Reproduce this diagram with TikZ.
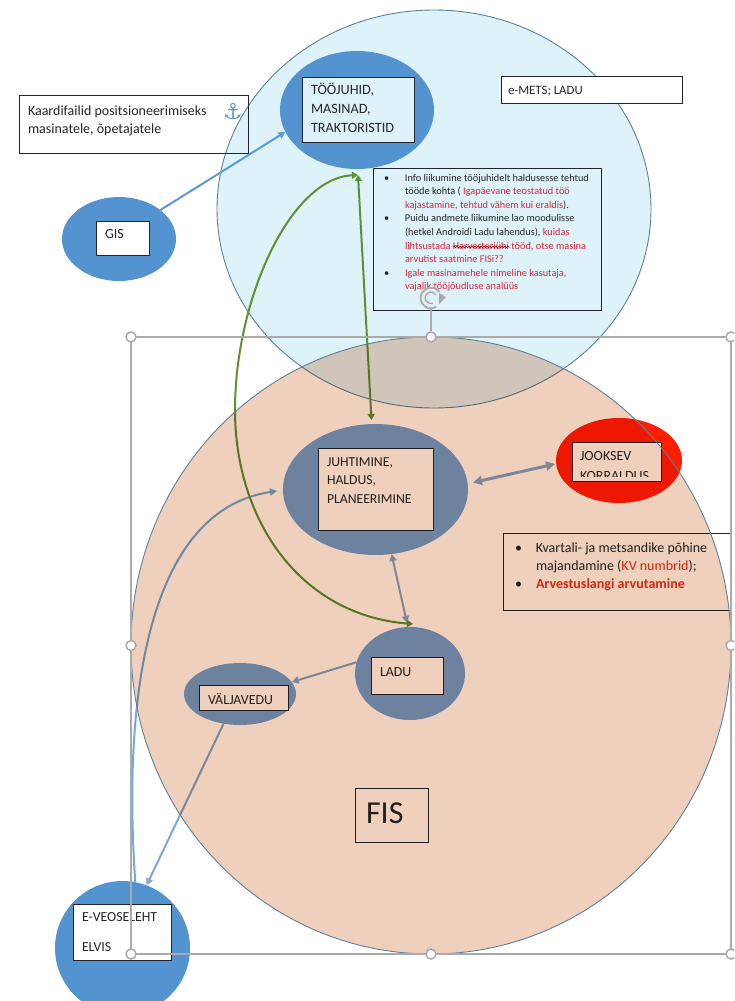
\documentclass[tikz,border=0pt]{standalone}
\usepackage{fontspec}
\setmainfont{Carlito}
\newfontfamily\djv{DejaVu Sans}
\usetikzlibrary{arrows.meta,shapes.geometric,decorations.pathmorphing}
\definecolor{lblue}{RGB}{222,242,250}
\definecolor{peach}{RGB}{238,208,188}
\definecolor{overblue}{RGB}{117,160,215}
\definecolor{arrblue}{RGB}{135,165,210}
\definecolor{curveblue}{RGB}{118,168,218}
\definecolor{mblue}{RGB}{83,148,208}
\definecolor{ablue}{RGB}{91,155,213}
\definecolor{edgeb}{RGB}{95,130,155}
\definecolor{gline}{RGB}{95,145,50}
\definecolor{hgray}{RGB}{170,170,170}
\definecolor{bdark}{RGB}{35,35,45}
\definecolor{tred}{RGB}{215,40,60}
\definecolor{kred}{RGB}{222,50,30}
\definecolor{hred}{RGB}{255,30,0}
\newcommand\szf[2]{\fontsize{#1}{#2}\selectfont}
\newcommand\bl[1]{\makebox[0pt][l]{\hspace{-21pt}•}#1}
\newcommand\tbox[9]{%
  \pgfmathsetmacro\bw{#5-#3}\pgfmathsetmacro\bh{#6-#4}%
  \node[boxst,#1,minimum width=\bw pt,minimum height=\bh pt] (#2) at (#3,#4) {};
  \node[txtst,font=#9] (#2-t) at (#7,#8) {\boxtext};}
\tikzset{
  boxst/.style={draw=bdark,line width=.9pt,anchor=north west,inner sep=0pt,outer sep=0pt},
  txtst/.style={anchor=north west,inner sep=0pt,outer sep=0pt,align=left,text=black!85},
  ell/.style={ellipse,inner sep=0pt,outer sep=0pt},
  conn/.style={line width=2pt,-{Triangle[length=7pt,width=7pt]}},
  biconn/.style={line width=2pt,{Triangle[length=7pt,width=7pt]}-{Triangle[length=7pt,width=7pt]}},
  handle/.style={circle,draw=hgray,fill=white,line width=1.5pt,minimum size=10pt,inner sep=0pt},
}
\begin{document}
\begin{tikzpicture}[x=1pt,y=-1pt]
\useasboundingbox (0,0) rectangle (734,1001);
\clip (0,0) rectangle (734,1001);
\fill[white] (0,0) rectangle (734,1001);
% light blue circle
\node[ell,fill=lblue,draw=edgeb,line width=.9pt,minimum width=434pt,minimum height=398pt] (emets) at (434,209) {};
% ellipses
\node[ell,fill=mblue,minimum width=154pt,minimum height=118pt] (too) at (357,110) {};
\node[ell,fill=mblue,minimum width=114pt,minimum height=84pt] (gis) at (119,239) {};
\node[ell,fill=mblue,minimum width=135pt,minimum height=134pt] (evee) at (122.5,948) {};
\node[ell,fill=overblue,minimum width=185pt,minimum height=131pt] (juht) at (375.5,489.5) {};
\node[ell,fill=overblue,minimum width=110pt,minimum height=93pt] (ladu) at (410,673.5) {};
\node[ell,fill=overblue,minimum width=112pt,minimum height=62pt] (valja) at (240,694) {};
\node[ell,fill=hred,minimum width=126pt,minimum height=85pt] (joo) at (619,460.5) {};
% text boxes
\def\boxtext{Kaardifailid positsioneerimiseks\\masinatele, õpetajatele}
\tbox{}{kaart}{19.5}{95}{248}{153}{28}{106}{\szf{14}{18}}
\def\boxtext{TÖÖJUHID,\\MASINAD,\\TRAKTORISTID}
\tbox{fill=lblue}{toob}{302}{77}{414}{142}{311}{83}{\szf{14.2}{19.2}}
\def\boxtext{GIS}
\tbox{fill=white}{gisb}{96}{221}{149}{255}{105}{229}{\szf{14}{19}}
\def\boxtext{e-METS; LADU}
\tbox{fill=white}{emetsb}{501}{76}{682}{103}{508}{86}{\szf{12.8}{14}}
\def\boxtext{\bl{Info liikumine tööjuhidelt haldusesse tehtud}\\
  tööde kohta ( \textcolor{tred}{Igapäevane teostatud töö}\\
  \textcolor{tred}{kajastamine, tehtud vähem kui eraldis}).\\
  \bl{Puidu andmete liikumine lao moodulisse}\\
  (hetkel Androidi Ladu lahendus), \textcolor{tred}{kuidas}\\
  \textcolor{tred}{lihtsustada Harvesteriühi tööd, otse masina}\\
  \textcolor{tred}{arvutist saatmine FISi??}\\
  \bl{\textcolor{tred}{Igale masinamehele nimeline kasutaja,}}\\
  \textcolor{tred}{vajalik tööjõudluse analüüs}}
\tbox{}{info}{373}{168}{601}{310}{405}{174}{\szf{10.3}{13.6}}
\draw[red!55!black,line width=.5pt,decorate,decoration={snake,amplitude=.8pt,segment length=3pt}]
  ([xshift=80pt,yshift=-79pt]info.north west) -- ([xshift=137pt,yshift=-79pt]info.north west);
\def\boxtext{JUHTIMINE,\\HALDUS,\\PLANEERIMINE}
\tbox{fill=white}{juhtb}{318}{448}{433}{530}{327}{457.5}{\szf{13.7}{18.5}}
\def\boxtext{JOOKSEV\\KORRALDUS}
\begin{scope}
\path[clip] (572,442) rectangle (661,477);
\tbox{fill=white}{joob}{572}{442}{661}{481}{580}{451}{\szf{14}{20}}
\end{scope}
\fill[white] (joob.south west) rectangle ([yshift=4pt]joob.south east);
\draw[bdark,line width=.9pt] (joob.north west) rectangle (joob.south east);
\def\boxtext{LADU}
\tbox{fill=white}{ladub}{371}{657}{443}{694}{380}{668}{\szf{13.9}{18}}
\def\boxtext{VÄLJAVEDU}
\tbox{fill=white}{valjab}{199}{685}{288}{710}{208}{693}{\szf{13.9}{18}}
\def\boxtext{\bl{Kvartali- ja metsandike põhine}\\majandamine (\textcolor{kred}{KV numbrid});\\\bl{\textcolor{kred}{\bfseries Arvestuslangi arvutamine}}}
\tbox{}{kv}{503}{533}{731.5}{610}{536}{543}{\szf{14}{18}}
\def\boxtext{FIS}
\tbox{fill=white}{fisb}{355}{788}{428}{842}{366}{803}{\szf{32}{34}}
\def\boxtext{E-VEOSELEHT\\ELVIS}
\tbox{fill=white}{eveeb}{73}{904}{171}{960}{82}{913}{\szf{13.8}{29.5}}
% anchor glyph
\node[text=ablue,inner sep=0pt,font=\djv\fontsize{22}{22}\selectfont] (anch) at (233,112) {⚓};
% connectors
\draw[conn,ablue] (gis.35) -- (too.197);
\draw[conn,arrblue] (ladu.168) -- (valja.13);
\draw[conn,arrblue] (valja.241) -- (evee.69);
\draw[biconn,arrblue] (juht.-76) -- ([xshift=-3pt,yshift=4pt]ladu.north);
\draw[arrblue,line width=3pt,{Triangle[length=9pt,width=9pt]}-{Triangle[length=9pt,width=9pt]}] ([xshift=5pt,yshift=7pt]juht.east) -- ([xshift=-1pt,yshift=-3.5pt]joo.west);
\draw[conn,curveblue] (evee.79) .. controls (122,690) and (150,510) .. ([xshift=-6pt,yshift=-1.5pt]juht.west);
\coordinate (gbend) at (235,410);
\draw[gline,line width=2pt,{Triangle[length=6pt,width=7pt]}-{Triangle[length=6pt,width=7pt]}]
  ([xshift=1pt,yshift=-6pt]too.south) .. controls (290,178) and (235,300) .. (gbend)
  .. controls (235,520) and (300,615) .. ([xshift=3pt,yshift=3pt]ladu.north);
\draw[gline,line width=2pt,{Triangle[length=6pt,width=7pt]}-{Triangle[length=6pt,width=7pt]}]
  ([xshift=1pt,yshift=-6pt]too.south) -- ([xshift=-4pt,yshift=4pt]juht.north);
% peach circle multiplied over everything below it
\begin{scope}[blend mode=multiply]
\fill[peach] (431,645.5) ellipse [x radius=300pt,y radius=308.5pt];
\end{scope}
\node[ell,draw=edgeb,line width=.9pt,minimum width=600pt,minimum height=617pt] (fis) at (431,645.5) {};
% selection frame
\node[draw=hgray,line width=1.3pt,inner sep=0pt,outer sep=0pt,minimum width=600pt,minimum height=617pt] (sel) at (431,645.5) {};
\foreach \n/\a in {h1/north west,h2/north,h3/north east,h4/west,h5/east,h6/south west,h7/south,h8/south east}
  \node[handle] (\n) at (sel.\a) {};
% rotation handle
\coordinate (hrot) at (431,298);
\draw[hgray,line width=1.3pt] (h2) -- ([yshift=-10pt]hrot);
\draw[hgray,line width=1.8pt] ([xshift=8.5pt,yshift=6pt]hrot) arc[start angle=35,end angle=300,radius=10.4pt];
\draw[hgray,line width=1.4pt] ([xshift=5pt,yshift=3pt]hrot) arc[start angle=30,end angle=290,radius=5.8pt];
\fill[hgray] ([xshift=8pt,yshift=5pt]hrot) -- ([xshift=15pt,yshift=1pt]hrot) -- ([xshift=8pt,yshift=-6pt]hrot) -- cycle;
\end{tikzpicture}
\end{document}
